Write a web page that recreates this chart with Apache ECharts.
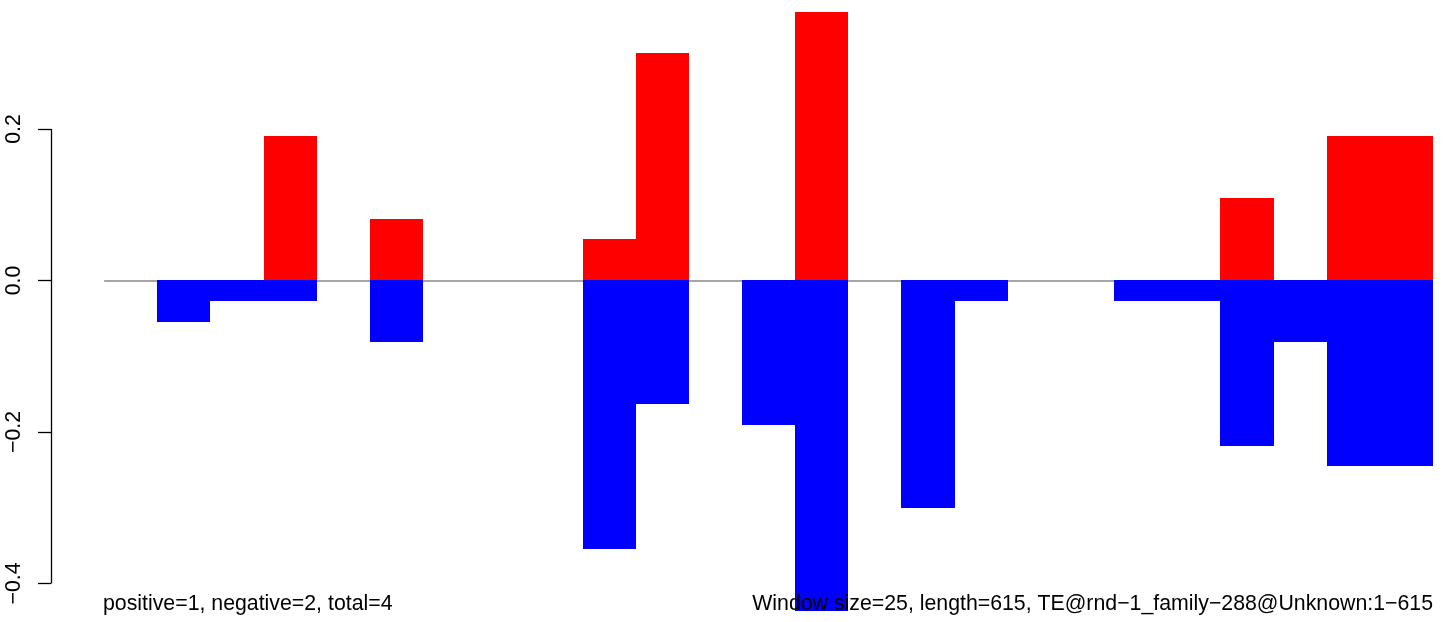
<!DOCTYPE html>
<html>
<head>
<meta charset="utf-8">
<script src="https://cdn.jsdelivr.net/npm/echarts@6/dist/echarts.min.js"></script>
<style>html,body{margin:0;padding:0;background:#fff}#c{width:1444px;height:622px}</style>
</head>
<body>
<div id="c"></div>
<script>
// 25 windows (window size 25, length 615)
const windows = [0,1,2,3,4,5,6,7,8,9,10,11,12,13,14,15,16,17,18,19,20,21,22,23,24];
const positive = [0,0,0,0.1909,0,0.0818,0,0,0,0.0545,0.3,0,0,0.3545,0,0,0,0,0,0,0,0.1091,0,0.1909,0.1909];
const negative = [0,-0.0545,-0.0273,-0.0273,0,-0.0818,0,0,0,-0.3545,-0.1636,0,-0.1909,-0.4364,0,-0.3,-0.0273,0,0,-0.0273,-0.0273,-0.2182,-0.0818,-0.2455,-0.2455];
const yTicks = [-0.4, -0.2, 0, 0.2];
const yMin = -0.4364, yMax = 0.3545;
const xMin = -1, xMax = 25;
const leftText = 'positive=1, negative=2, total=4';
const rightText = 'Window size=25, length=615, TE@rnd\u22121_family\u2212288@Unknown:1\u2212615';

const FONT = '"Liberation Sans", Arial, Helvetica, sans-serif';

function barRenderer(color) {
  return function (params, api) {
    const i = api.value(0), v = api.value(1);
    const p0 = api.coord([i, 0]);
    const p1 = api.coord([i + 1, v]);
    const x0 = Math.round(p0[0]), x1 = Math.round(p1[0]);
    const y0 = Math.round(p0[1]), y1 = Math.round(p1[1]);
    return {
      type: 'rect',
      shape: { x: x0, y: Math.min(y0, y1), width: x1 - x0, height: Math.abs(y1 - y0) },
      style: { fill: color, stroke: null }
    };
  };
}

const chart = echarts.init(document.getElementById('c'), null, { renderer: 'canvas' });
chart.setOption({
  animation: false,
  backgroundColor: '#ffffff',
  title: [
    { text: leftText, left: 103, top: 594, padding: 0,
      textStyle: { fontFamily: FONT, fontSize: 21.3, fontWeight: 'normal', color: '#000' } },
    { text: rightText, right: 11, top: 594, padding: 0,
      textStyle: { fontFamily: FONT, fontSize: 21.3, fontWeight: 'normal', color: '#000' } }
  ],
  grid: { left: 51, right: 11, top: 12, bottom: 11, containLabel: false },
  xAxis: { type: 'value', min: xMin, max: xMax, show: false },
  yAxis: {
    type: 'value', min: yMin, max: yMax,
    splitLine: { show: false },
    axisLine: { show: false, onZero: false },
    axisTick: { show: true, customValues: yTicks, length: 13, lineStyle: { color: '#000', width: 1.3 } },
    axisLabel: {
      show: true, customValues: yTicks, rotate: 90, margin: 26,
      fontFamily: FONT, fontSize: 21.3, color: '#000',
      formatter: function (v) { return (v < 0 ? '\u2212' : '') + Math.abs(v).toFixed(1); }
    }
  },
  series: [
    {
      type: 'custom', name: 'axis', z: 1, clip: false,
      renderItem: function () { return null; },
      data: [],
      markLine: {
        silent: true, symbol: 'none', z: 1, label: { show: false },
        data: [
          [{ coord: [windows[0], 0], lineStyle: { color: '#a6a6a6', width: 2, type: 'solid' } }, { coord: [windows[windows.length - 1] + 1, 0] }],
          [{ coord: [xMin, yTicks[yTicks.length - 1]], lineStyle: { color: '#000', width: 1.3, type: 'solid' } }, { coord: [xMin, yTicks[0]] }]
        ]
      }
    },
    {
      type: 'custom', name: 'positive', z: 2, clip: false,
      renderItem: barRenderer('#ff0000'),
      data: windows.filter(i => positive[i] !== 0).map(i => [i, positive[i]])
    },
    {
      type: 'custom', name: 'negative', z: 2, clip: false,
      renderItem: barRenderer('#0000ff'),
      data: windows.filter(i => negative[i] !== 0).map(i => [i, negative[i]])
    }
  ]
});
</script>
</body>
</html>
